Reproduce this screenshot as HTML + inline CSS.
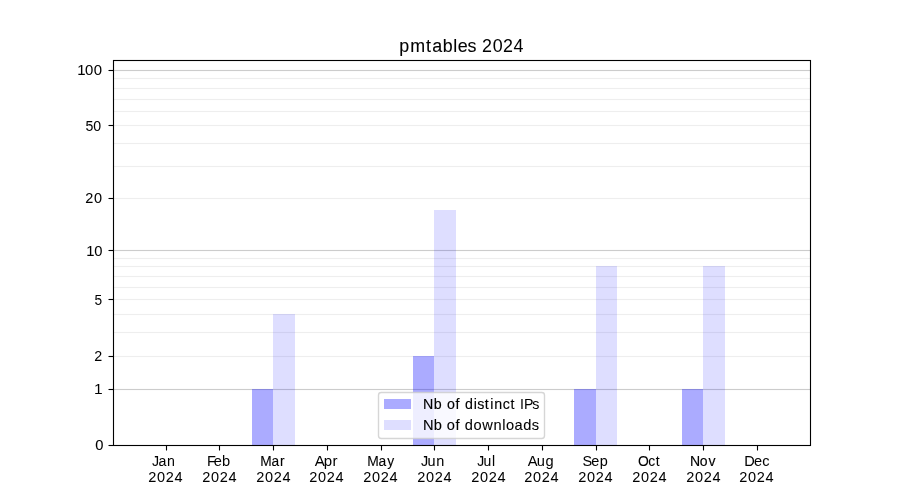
<!DOCTYPE html>
<html lang="en">
<head>
<meta charset="utf-8">
<title>pmtables 2024</title>
<style>
html,body{margin:0;padding:0;background:#ffffff;}
body{width:900px;height:500px;overflow:hidden;}
svg{display:block;will-change:transform;}
text{font-family:"Liberation Sans",sans-serif;fill:#000000;stroke:#000000;white-space:pre;}
</style>
</head>
<body>
<svg width="900" height="500" viewBox="0 0 900 500">
<rect x="0" y="0" width="900" height="500" fill="#ffffff"/>
<g shape-rendering="crispEdges">
<rect x="112" y="77" width="699" height="3" fill="#fefefe"/>
<rect x="112" y="87" width="699" height="3" fill="#fefefe"/>
<rect x="112" y="98" width="699" height="3" fill="#fefefe"/>
<rect x="112" y="110" width="699" height="3" fill="#fefefe"/>
<rect x="112" y="124" width="699" height="3" fill="#fefefe"/>
<rect x="112" y="142" width="699" height="3" fill="#fefefe"/>
<rect x="112" y="165" width="699" height="3" fill="#fefefe"/>
<rect x="112" y="197" width="699" height="3" fill="#fefefe"/>
<rect x="112" y="257" width="699" height="3" fill="#fefefe"/>
<rect x="112" y="265" width="699" height="3" fill="#fefefe"/>
<rect x="112" y="275" width="699" height="3" fill="#fefefe"/>
<rect x="112" y="286" width="699" height="3" fill="#fefefe"/>
<rect x="112" y="298" width="699" height="3" fill="#fefefe"/>
<rect x="112" y="313" width="699" height="3" fill="#fefefe"/>
<rect x="112" y="331" width="699" height="3" fill="#fefefe"/>
<rect x="112" y="355" width="699" height="3" fill="#fefefe"/>
<rect x="112" y="69" width="699" height="3" fill="#fcfcfc"/>
<rect x="112" y="249" width="699" height="3" fill="#fcfcfc"/>
<rect x="112" y="388" width="699" height="3" fill="#fcfcfc"/>
</g>
<g stroke-width="1" fill="none" shape-rendering="crispEdges">
<line x1="112.5" x2="810" y1="78.5" y2="78.5" stroke="#eeeeee"/>
<line x1="112.5" x2="810" y1="88.5" y2="88.5" stroke="#eeeeee"/>
<line x1="112.5" x2="810" y1="99.5" y2="99.5" stroke="#eeeeee"/>
<line x1="112.5" x2="810" y1="111.5" y2="111.5" stroke="#eeeeee"/>
<line x1="112.5" x2="810" y1="125.5" y2="125.5" stroke="#eeeeee"/>
<line x1="112.5" x2="810" y1="143.5" y2="143.5" stroke="#eeeeee"/>
<line x1="112.5" x2="810" y1="166.5" y2="166.5" stroke="#eeeeee"/>
<line x1="112.5" x2="810" y1="198.5" y2="198.5" stroke="#eeeeee"/>
<line x1="112.5" x2="810" y1="258.5" y2="258.5" stroke="#eeeeee"/>
<line x1="112.5" x2="810" y1="266.5" y2="266.5" stroke="#eeeeee"/>
<line x1="112.5" x2="810" y1="276.5" y2="276.5" stroke="#eeeeee"/>
<line x1="112.5" x2="810" y1="287.5" y2="287.5" stroke="#eeeeee"/>
<line x1="112.5" x2="810" y1="299.5" y2="299.5" stroke="#eeeeee"/>
<line x1="112.5" x2="810" y1="314.5" y2="314.5" stroke="#eeeeee"/>
<line x1="112.5" x2="810" y1="332.5" y2="332.5" stroke="#eeeeee"/>
<line x1="112.5" x2="810" y1="356.5" y2="356.5" stroke="#eeeeee"/>
<line x1="112.5" x2="810" y1="70.5" y2="70.5" stroke="#cccccc"/>
<line x1="112.5" x2="810" y1="250.5" y2="250.5" stroke="#cccccc"/>
<line x1="112.5" x2="810" y1="389.5" y2="389.5" stroke="#cccccc"/>
</g>
<g shape-rendering="crispEdges" fill="#0000ff">
<rect x="252" y="389" width="21" height="56" fill-opacity="0.33"/>
<rect x="413" y="356" width="21" height="89" fill-opacity="0.33"/>
<rect x="574" y="389" width="22" height="56" fill-opacity="0.33"/>
<rect x="682" y="389" width="21" height="56" fill-opacity="0.33"/>
<rect x="273" y="314" width="22" height="131" fill-opacity="0.13"/>
<rect x="434" y="210" width="22" height="235" fill-opacity="0.13"/>
<rect x="596" y="266" width="21" height="179" fill-opacity="0.13"/>
<rect x="703" y="266" width="22" height="179" fill-opacity="0.13"/>
</g>
<g stroke="#000000" stroke-width="1.111" fill="none">
<line x1="166.5" x2="166.5" y1="445.5" y2="450.5"/>
<line x1="219.5" x2="219.5" y1="445.5" y2="450.5"/>
<line x1="273.5" x2="273.5" y1="445.5" y2="450.5"/>
<line x1="327.5" x2="327.5" y1="445.5" y2="450.5"/>
<line x1="381.5" x2="381.5" y1="445.5" y2="450.5"/>
<line x1="434.5" x2="434.5" y1="445.5" y2="450.5"/>
<line x1="488.5" x2="488.5" y1="445.5" y2="450.5"/>
<line x1="542.5" x2="542.5" y1="445.5" y2="450.5"/>
<line x1="596.5" x2="596.5" y1="445.5" y2="450.5"/>
<line x1="649.5" x2="649.5" y1="445.5" y2="450.5"/>
<line x1="703.5" x2="703.5" y1="445.5" y2="450.5"/>
<line x1="757.5" x2="757.5" y1="445.5" y2="450.5"/>
<line x1="108.5" x2="113.5" y1="70.5" y2="70.5"/>
<line x1="108.5" x2="113.5" y1="125.5" y2="125.5"/>
<line x1="108.5" x2="113.5" y1="198.5" y2="198.5"/>
<line x1="108.5" x2="113.5" y1="250.5" y2="250.5"/>
<line x1="108.5" x2="113.5" y1="299.5" y2="299.5"/>
<line x1="108.5" x2="113.5" y1="356.5" y2="356.5"/>
<line x1="108.5" x2="113.5" y1="389.5" y2="389.5"/>
<line x1="108.5" x2="113.5" y1="445.5" y2="445.5"/>
<rect x="113.5" y="60.5" width="697" height="385" stroke-linejoin="miter"/>
</g>
<g opacity="0.999">
<text transform="translate(0,51.50) scale(1.0250,1)" font-size="17.45"><tspan x="389.45 400.30 415.62 421.72 432.06 442.30 446.58 456.15" stroke-width="0.106">pmtables</tspan> <tspan x="470.24 480.77 490.85 501.01" stroke-width="0.031">2024</tspan></text>
<text transform="translate(0,74.50) scale(1.0250,1)" font-size="14.55" stroke-width="0.059" x="75.39 82.84 91.38">100</text>
<text transform="translate(0,130.50) scale(1.0300,1)" font-size="13.75" stroke-width="0.033" x="82.99 90.62">50</text>
<text transform="translate(0,202.50) scale(1.0150,1)" font-size="14.25" stroke-width="0.065" x="83.91 92.68">20</text>
<text transform="translate(0,255.50) scale(1.0400,1)" font-size="14.20" stroke-width="0.044" x="83.00 90.63">10</text>
<text transform="translate(0,304.50) scale(0.9700,1)" font-size="14.15" stroke-width="0.011" x="97.37">5</text>
<text transform="translate(0,360.50) scale(1.0400,1)" font-size="13.75" stroke-width="0.032" x="90.59">2</text>
<text transform="translate(0,393.50) scale(1.0300,1)" font-size="15.10" stroke-width="0.001" x="91.16">1</text>
<text transform="translate(0,449.50) scale(1.0350,1)" font-size="14.25" stroke-width="0.105" x="92.14">0</text>
<text transform="translate(0,465.85) scale(0.9800,1)" font-size="14.50" stroke-width="0.025" x="155.00 161.87 170.29">Jan</text>
<text transform="translate(0,482.00) scale(1.0300,1)" font-size="14.10" stroke-width="0.032" x="143.83 152.48 160.82 169.52">2024</text>
<text transform="translate(0,465.95) scale(1.0500,1)" font-size="13.95" stroke-width="0.000" fill-opacity="0.994" x="197.05 203.66 211.37">Feb</text>
<text transform="translate(0,482.00) scale(1.0300,1)" font-size="14.10" stroke-width="0.032" x="196.26 204.91 213.25 221.95">2024</text>
<text transform="translate(0,465.95) scale(0.9950,1)" font-size="13.80" stroke-width="0.117" x="261.46 272.87 281.38">Mar</text>
<text transform="translate(0,482.00) scale(1.0300,1)" font-size="14.10" stroke-width="0.032" x="248.69 257.34 265.68 274.38">2024</text>
<text transform="translate(0,466.30) scale(1.0350,1)" font-size="14.55" stroke-width="0.001" x="304.02 312.69 321.34">Apr</text>
<text transform="translate(0,481.50) scale(1.0300,1)" font-size="14.10" stroke-width="0.032" x="300.19 308.79 317.13 325.83">2024</text>
<text transform="translate(0,465.60) scale(1.0100,1)" font-size="13.75" stroke-width="0.095" x="363.56 374.81 383.37">May</text>
<text transform="translate(0,482.25) scale(1.0300,1)" font-size="14.10" stroke-width="0.032" x="352.67 361.22 369.56 378.26">2024</text>
<text transform="translate(0,466.10) scale(1.0200,1)" font-size="14.15" stroke-width="0.047" x="412.70 419.21 427.60">Jun</text>
<text transform="translate(0,482.00) scale(1.0300,1)" font-size="14.10" stroke-width="0.032" x="405.00 413.65 421.99 430.69">2024</text>
<text transform="translate(0,465.85) scale(0.9600,1)" font-size="14.50" stroke-width="0.053" x="497.05 503.69 512.55">Jul</text>
<text transform="translate(0,482.00) scale(1.0300,1)" font-size="14.10" stroke-width="0.032" x="457.43 466.07 474.42 483.12">2024</text>
<text transform="translate(0,466.20) scale(1.0000,1)" font-size="14.65" stroke-width="0.031" x="527.65 536.64 545.39">Aug</text>
<text transform="translate(0,481.75) scale(1.0300,1)" font-size="14.10" stroke-width="0.032" x="508.88 517.53 525.87 534.57">2024</text>
<text transform="translate(0,465.60) scale(1.0150,1)" font-size="14.25" stroke-width="0.034" x="573.88 582.41 590.83">Sep</text>
<text transform="translate(0,482.25) scale(1.0300,1)" font-size="14.10" stroke-width="0.032" x="561.41 569.96 578.30 587.00">2024</text>
<text transform="translate(0,466.35) scale(0.9700,1)" font-size="14.30" stroke-width="0.083" x="657.63 668.35 675.95">Oct</text>
<text transform="translate(0,482.00) scale(1.0300,1)" font-size="14.10" stroke-width="0.032" x="613.74 622.38 630.73 639.43">2024</text>
<text transform="translate(0,465.95) scale(1.0100,1)" font-size="13.90" stroke-width="0.167" x="683.06 692.79 701.48">Nov</text>
<text transform="translate(0,482.00) scale(1.0300,1)" font-size="14.10" stroke-width="0.032" x="666.16 674.81 683.15 691.85">2024</text>
<text transform="translate(0,466.20) scale(1.0300,1)" font-size="14.15" stroke-width="0.038" x="722.56 731.96 739.97">Dec</text>
<text transform="translate(0,482.00) scale(1.0300,1)" font-size="14.10" stroke-width="0.032" x="717.62 726.27 734.61 743.31">2024</text>
</g>
<rect x="378.5" y="392.5" width="166" height="46" rx="2.78" ry="2.78" fill="#ffffff" fill-opacity="0.8" stroke="#cccccc" stroke-opacity="0.8" stroke-width="1.389"/>
<g shape-rendering="crispEdges" fill="#0000ff">
<rect x="384" y="399" width="27" height="10" fill-opacity="0.33"/>
<rect x="384" y="420" width="27" height="10" fill-opacity="0.13"/>
</g>
<g opacity="0.999">
<text transform="translate(0,409.00) scale(0.9750,1)" font-size="14.60"><tspan x="433.97 444.96" stroke-width="0.157">Nb</tspan> <tspan x="458.57 467.12" stroke-width="0.166">of</tspan> <tspan x="477.01 485.93 489.51 497.15 502.85 506.92 515.69 523.56" stroke-width="0.140">distinct</tspan> <tspan x="533.31 537.33 545.95" stroke-width="0.000" fill-opacity="0.998">IPs</tspan></text>
<text transform="translate(0,430.00) scale(1.0300,1)" font-size="14.20"><tspan x="410.80 421.09" stroke-width="0.123">Nb</tspan> <tspan x="433.69 442.12" stroke-width="0.113">of</tspan> <tspan x="451.14 459.66 468.14 479.16 487.58 491.21 499.63 507.94 516.32" stroke-width="0.081">downloads</tspan></text>
</g>
</svg>
</body>
</html>
